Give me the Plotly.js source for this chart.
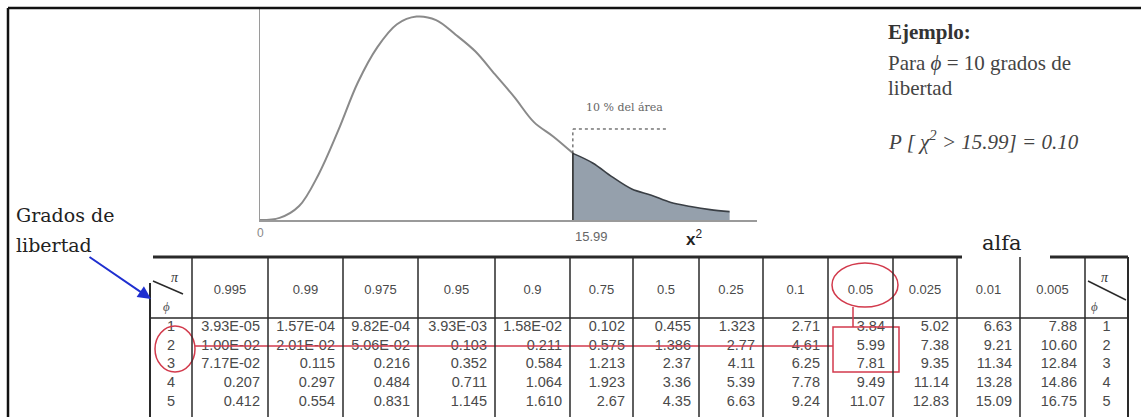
<!DOCTYPE html>
<html>
<head>
<meta charset="utf-8">
<script src="https://cdn.plot.ly/plotly-3.0.1.min.js"></script>
<style>html,body{margin:0;padding:0;background:#fff;}#chart{width:1141px;height:417px;}</style>
</head>
<body>
<div id="chart"></div>
<script>
// ---------- data ----------
const CHI_X = [0,1,2,3,4,5,6,7,8,9,10,11,12,13,14,15,16];
const CHI_DENSITY = [0,0.001,0.0067,0.022,0.043,0.066,0.083,0.094,0.0977,0.096,0.089,0.081,0.070,0.059,0.047,0.040,0.032];
const CRITICAL = 15.99;
const TAIL_X = [15.99,17,18,19,20,21,22,23,24];
const TAIL_DENSITY = [0.032,0.0274,0.0207,0.0149,0.0119,0.0084,0.0065,0.005,0.004];

const ALPHAS = ['0.995','0.99','0.975','0.95','0.9','0.75','0.5','0.25','0.1','0.05','0.025','0.01','0.005'];
const DF = ['1','2','3','4','5'];
const ROW_DF1 = ['3.93E-05','1.57E-04','9.82E-04','3.93E-03','1.58E-02','0.102','0.455','1.323','2.71','3.84','5.02','6.63','7.88'];
const ROW_DF2 = ['1.00E-02','2.01E-02','5.06E-02','0.103','0.211','0.575','1.386','2.77','4.61','5.99','7.38','9.21','10.60'];
const ROW_DF3 = ['7.17E-02','0.115','0.216','0.352','0.584','1.213','2.37','4.11','6.25','7.81','9.35','11.34','12.84'];
const ROW_DF4 = ['0.207','0.297','0.484','0.711','1.064','1.923','3.36','5.39','7.78','9.49','11.14','13.28','14.86'];
const ROW_DF5 = ['0.412','0.554','0.831','1.145','1.610','2.67','4.35','6.63','9.24','11.07','12.83','15.09','16.75'];

// ---------- layout helpers ----------
const W = 1141, H = 417;
const px = v => v / W;
const py = v => 1 - v / H;
const RED = '#d23a4c';
const GRID = '#2a2a2a';
const TXT = '#4a4a4a';

const ROWS = [ROW_DF1, ROW_DF2, ROW_DF3, ROW_DF4, ROW_DF5];
const cellColumns = [DF].concat(ALPHAS.map((a, i) => ROWS.map(r => r[i]))).concat([DF]);
const headerValues = [''].concat(ALPHAS.map(a => '\u00a0<br>' + a)).concat(['']);

const COL_W = [42,76,75,75,77,75,63,66,64,65,65,64,63,65,43];
const TABLE_LEFT = 150, TABLE_TOP = 257, HEADER_LINE = 318, HEADER_H = 55, ROW_H = 18.7;
const TABLE_RIGHT = TABLE_LEFT + COL_W.reduce((a, b) => a + b, 0);
const edges = [TABLE_LEFT];
COL_W.forEach(w => edges.push(edges[edges.length - 1] + w));

const traces = [
  {
    type: 'scatter', mode: 'lines', x: CHI_X, y: CHI_DENSITY,
    line: {color: '#8a8a8a', width: 2, shape: 'spline'}, hoverinfo: 'skip',
    xaxis: 'x', yaxis: 'y'
  },
  {
    type: 'scatter', mode: 'lines', x: TAIL_X, y: TAIL_DENSITY,
    fill: 'tozeroy', fillcolor: 'rgba(140,152,165,0.92)',
    line: {color: '#3a3f45', width: 1.6, shape: 'spline'}, hoverinfo: 'skip',
    xaxis: 'x', yaxis: 'y'
  },
  {
    type: 'table',
    domain: {x: [px(TABLE_LEFT), px(TABLE_RIGHT)], y: [0, py(TABLE_TOP)]},
    columnwidth: COL_W,
    header: {
      values: headerValues, height: HEADER_H, align: 'center',
      fill: {color: 'rgba(0,0,0,0)'}, line: {width: 0, color: 'rgba(0,0,0,0)'},
      font: {family: 'Liberation Sans, Arial, sans-serif', size: 13, color: TXT}
    },
    cells: {
      values: cellColumns, height: ROW_H,
      align: ['center'].concat(ALPHAS.map(() => 'right')).concat(['center']),
      fill: {color: 'rgba(0,0,0,0)'}, line: {width: 0, color: 'rgba(0,0,0,0)'},
      font: {family: 'Liberation Sans, Arial, sans-serif', size: 14.5, color: TXT}
    }
  }
];

const shapes = [
  // outer frame
  {type: 'line', xref: 'paper', yref: 'paper', x0: px(8), x1: 1, y0: py(8), y1: py(8), line: {color: '#111', width: 2.5}},
  {type: 'line', xref: 'paper', yref: 'paper', x0: px(8), x1: px(8), y0: py(8), y1: 0, line: {color: '#111', width: 2.5}},
  // threshold edge and dashed guide
  {type: 'line', xref: 'x', yref: 'y', x0: CRITICAL, x1: CRITICAL, y0: 0, y1: TAIL_DENSITY[0], line: {color: '#222', width: 1.5}},
  {type: 'line', xref: 'x', yref: 'y', x0: CRITICAL, x1: CRITICAL, y0: TAIL_DENSITY[0], y1: 0.0437, line: {color: '#333', width: 1, dash: 'dot'}},
  {type: 'line', xref: 'x', yref: 'y', x0: CRITICAL, x1: 20.85, y0: 0.0437, y1: 0.0437, line: {color: '#333', width: 1, dash: 'dot'}},
  // table lines
  {type: 'line', xref: 'paper', yref: 'paper', x0: px(153), x1: px(962), y0: py(TABLE_TOP), y1: py(TABLE_TOP), line: {color: GRID, width: 3}},
  {type: 'line', xref: 'paper', yref: 'paper', x0: px(1050), x1: px(TABLE_RIGHT), y0: py(TABLE_TOP), y1: py(TABLE_TOP), line: {color: GRID, width: 3}},
  {type: 'line', xref: 'paper', yref: 'paper', x0: px(TABLE_LEFT), x1: px(TABLE_RIGHT), y0: py(HEADER_LINE), y1: py(HEADER_LINE), line: {color: GRID, width: 1.5}},
  // diagonals in corner headers
  {type: 'line', xref: 'paper', yref: 'paper', x0: px(153), x1: px(183), y0: py(281), y1: py(294), line: {color: GRID, width: 1.5}},
  {type: 'line', xref: 'paper', yref: 'paper', x0: px(1088), x1: px(1126), y0: py(281), y1: py(300), line: {color: GRID, width: 1.5}},
  // red highlights
  {type: 'circle', xref: 'paper', yref: 'paper', x0: px(155), x1: px(195), y0: py(326), y1: py(372), line: {color: RED, width: 1.5}},
  {type: 'line', xref: 'paper', yref: 'paper', x0: px(195), x1: px(833), y0: py(346), y1: py(346), line: {color: RED, width: 1.5}},
  {type: 'circle', xref: 'paper', yref: 'paper', x0: px(832), x1: px(898), y0: py(263), y1: py(307), line: {color: RED, width: 1.5}},
  {type: 'line', xref: 'paper', yref: 'paper', x0: px(853), x1: px(853), y0: py(307), y1: py(327), line: {color: RED, width: 1.5}},
  {type: 'rect', xref: 'paper', yref: 'paper', x0: px(833), x1: px(899), y0: py(327), y1: py(372), line: {color: RED, width: 1.5}}
];
edges.forEach((e, i) => {
  let top = TABLE_TOP;
  if (i === 0) top = 283;
  shapes.push({type: 'line', xref: 'paper', yref: 'paper', x0: px(e), x1: px(e), y0: py(top), y1: 0, line: {color: GRID, width: (i === 0 || i === edges.length - 1) ? 2 : 1.5}});
});

const serif = 'Liberation Serif, Times New Roman, serif';
const annotations = [
  {xref: 'x', yref: 'paper', x: 0, y: py(224), text: '0', showarrow: false, xanchor: 'center', yanchor: 'top', font: {family: 'Liberation Sans, Arial', size: 12, color: '#888'}},
  {xref: 'x', yref: 'paper', x: CRITICAL, y: py(227), text: '15.99', showarrow: false, xanchor: 'left', yanchor: 'top', font: {family: 'Liberation Sans, Arial', size: 13, color: '#666'}},
  {xref: 'x', yref: 'paper', x: 22.2, y: py(238), text: '<b>x</b><sup>2</sup>', showarrow: false, xanchor: 'center', yanchor: 'middle', font: {family: 'Liberation Sans, Arial', size: 17, color: '#222'}},
  {xref: 'x', yref: 'paper', x: 18.65, y: py(108), text: '10 % del área', showarrow: false, xanchor: 'center', yanchor: 'middle', font: {family: 'DejaVu Serif', size: 11, color: '#666'}},
  {xref: 'paper', yref: 'paper', x: px(886), y: py(32), text: '<b>Ejemplo:</b>', showarrow: false, xanchor: 'left', yanchor: 'middle', font: {family: serif, size: 21, color: '#333'}},
  {xref: 'paper', yref: 'paper', x: px(886), y: py(63), text: 'Para <i>ϕ</i> = 10 grados de', showarrow: false, xanchor: 'left', yanchor: 'middle', font: {family: serif, size: 21, color: '#444'}},
  {xref: 'paper', yref: 'paper', x: px(886), y: py(88), text: 'libertad', showarrow: false, xanchor: 'left', yanchor: 'middle', font: {family: serif, size: 21, color: '#444'}},
  {xref: 'paper', yref: 'paper', x: px(886), y: py(140), text: '<i>P [ χ<sup>2</sup> > 15.99] = 0.10</i>', showarrow: false, xanchor: 'left', yanchor: 'middle', font: {family: serif, size: 21, color: '#444'}},
  {xref: 'paper', yref: 'paper', x: px(14), y: py(215), text: 'Grados de', showarrow: false, xanchor: 'left', yanchor: 'middle', font: {family: 'DejaVu Serif', size: 19, color: '#222'}},
  {xref: 'paper', yref: 'paper', x: px(14), y: py(245), text: 'libertad', showarrow: false, xanchor: 'left', yanchor: 'middle', font: {family: 'DejaVu Serif', size: 19, color: '#222'}},
  {xref: 'paper', yref: 'paper', x: px(1002), y: py(243), text: 'alfa', showarrow: false, xanchor: 'center', yanchor: 'middle', font: {family: 'DejaVu Serif', size: 21, color: '#222'}},
  {xref: 'paper', yref: 'paper', x: px(175), y: py(277), text: '<i>π</i>', showarrow: false, xanchor: 'center', yanchor: 'middle', font: {family: serif, size: 14, color: '#333'}},
  {xref: 'paper', yref: 'paper', x: px(166), y: py(306), text: '<i>ϕ</i>', showarrow: false, xanchor: 'center', yanchor: 'middle', font: {family: serif, size: 13, color: '#555'}},
  {xref: 'paper', yref: 'paper', x: px(1105), y: py(277), text: '<i>π</i>', showarrow: false, xanchor: 'center', yanchor: 'middle', font: {family: serif, size: 14, color: '#333'}},
  {xref: 'paper', yref: 'paper', x: px(1094), y: py(306), text: '<i>ϕ</i>', showarrow: false, xanchor: 'center', yanchor: 'middle', font: {family: serif, size: 13, color: '#555'}},
  {xref: 'paper', yref: 'paper', x: px(151), y: py(299), text: '', showarrow: true, ax: -63, ay: -43, arrowhead: 2, arrowsize: 1.3, arrowwidth: 2, arrowcolor: '#1f2fd0', standoff: 0}
];

const layout = {
  width: W, height: H,
  margin: {l: 0, r: 0, t: 0, b: 0},
  paper_bgcolor: '#ffffff', plot_bgcolor: 'rgba(0,0,0,0)',
  showlegend: false,
  xaxis: {domain: [px(260), px(757)], range: [0, 25.4], showline: true, linecolor: '#9a9a9a', linewidth: 1.5,
          showgrid: false, zeroline: false, showticklabels: false, ticks: ''},
  yaxis: {domain: [py(220), py(8)], range: [0, 0.1018], showline: true, linecolor: '#9a9a9a', linewidth: 1.5,
          showgrid: false, zeroline: false, showticklabels: false, ticks: ''},
  shapes: shapes,
  annotations: annotations
};

Plotly.newPlot('chart', traces, layout, {displayModeBar: false, staticPlot: true});
</script>
</body>
</html>
